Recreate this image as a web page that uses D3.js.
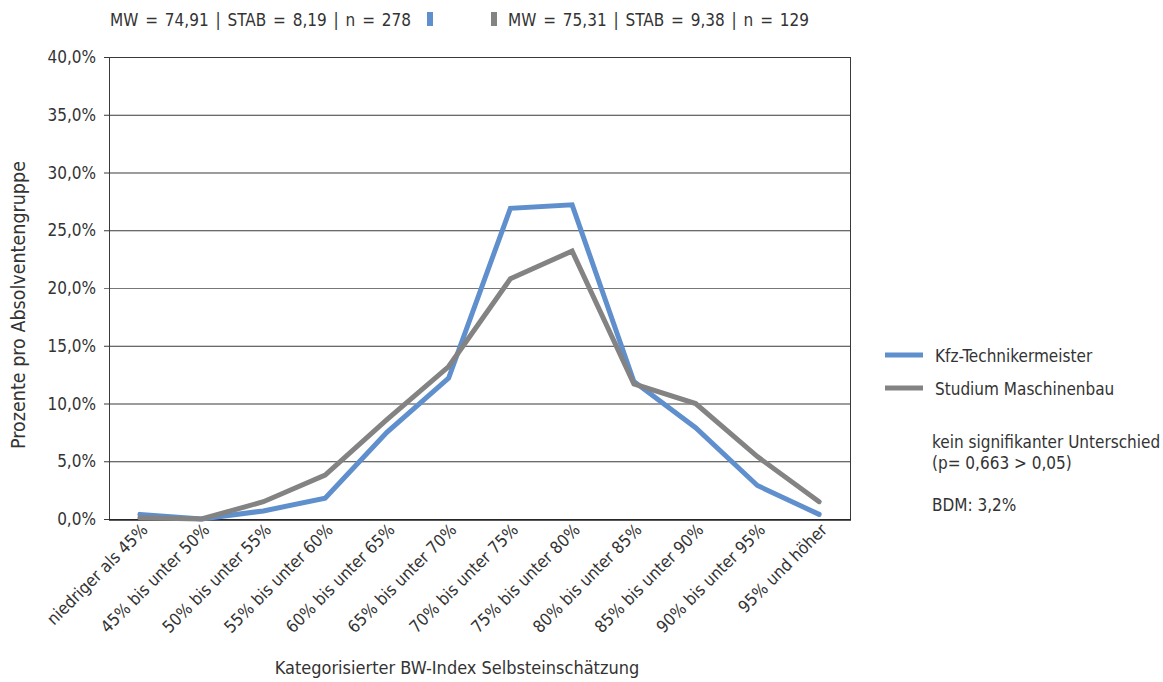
<!DOCTYPE html>
<html>
<head>
<meta charset="utf-8">
<script src="https://cdn.jsdelivr.net/npm/d3@7"></script>
<style>
  body { margin: 0; background: #fff; }
  svg { font-family: "Liberation Sans Narrow", "DejaVu Sans Condensed", "Roboto", sans-serif; }
</style>
</head>
<body>
<svg id="chart"></svg>
<script>
const categories = [
  'niedriger als 45%', '45% bis unter 50%', '50% bis unter 55%', '55% bis unter 60%',
  '60% bis unter 65%', '65% bis unter 70%', '70% bis unter 75%', '75% bis unter 80%',
  '80% bis unter 85%', '85% bis unter 90%', '90% bis unter 95%', '95% und höher'
];
const kfzValues = [0.4, 0.0, 0.7, 1.8, 7.5, 12.2, 26.9, 27.2, 11.9, 7.9, 2.9, 0.4];
const maschValues = [0.1, 0.0, 1.5, 3.8, 8.6, 13.2, 20.8, 23.2, 11.7, 10.0, 5.4, 1.5];
const seriesNames = ['Kfz-Technikermeister', 'Studium Maschinenbau'];
const statsLabels = ['MW = 74,91 | STAB = 8,19 | n = 278', 'MW = 75,31 | STAB = 9,38 | n = 129'];
const yTicks = [0, 5, 10, 15, 20, 25, 30, 35, 40];
const noteLines = ['kein signifikanter Unterschied', '(p= 0,663 > 0,05)', '', 'BDM: 3,2%'];

const W = 1163, H = 682;
const margin = { top: 57, right: 313, bottom: 163, left: 109 };
const colors = ['#5f8fcd', '#838383'];

const svg = d3.select('#chart').attr('width', W).attr('height', H);

const x = d3.scaleBand()
  .domain(categories)
  .range([margin.left, W - margin.right]);

const y = d3.scaleLinear()
  .domain([0, 40])
  .range([H - margin.bottom, margin.top]);

// gridlines
svg.append('g')
  .selectAll('line')
  .data(yTicks)
  .enter()
  .append('line')
  .attr('x1', margin.left - 5)
  .attr('x2', W - margin.right)
  .attr('y1', d => y(d) + 0.5)
  .attr('y2', d => y(d) + 0.5)
  .attr('stroke', d => d === 20 ? '#777' : '#3a3a3a')
  .attr('stroke-width', 1);

// plot frame sides
svg.append('line')
  .attr('x1', margin.left + 0.5).attr('x2', margin.left + 0.5)
  .attr('y1', y(40)).attr('y2', y(0) + 1)
  .attr('stroke', '#3a3a3a');
svg.append('line')
  .attr('x1', W - margin.right + 0.5).attr('x2', W - margin.right + 0.5)
  .attr('y1', y(40)).attr('y2', y(0) + 1)
  .attr('stroke', '#3a3a3a');
svg.append('line')
  .attr('x1', margin.left).attr('x2', W - margin.right + 1)
  .attr('y1', y(0) + 1).attr('y2', y(0) + 1)
  .attr('stroke', '#222').attr('stroke-width', 1.5);

// y axis labels
svg.append('g')
  .selectAll('text')
  .data(yTicks)
  .enter()
  .append('text')
  .attr('x', margin.left - 13)
  .attr('y', d => y(d) + 6)
  .attr('text-anchor', 'end')
  .attr('font-size', 17)
  .attr('fill', '#333')
  .text(d => d.toFixed(1).replace('.', ',') + '%');

// x labels
svg.append('g')
  .selectAll('text')
  .data(categories)
  .enter()
  .append('text')
  .attr('text-anchor', 'end')
  .attr('font-size', 17)
  .attr('fill', '#333')
  .attr('transform', d => `translate(${x(d) + x.bandwidth() / 2 + 9}, ${y(0) + 12}) rotate(-45)`)
  .text(d => d);

// axis titles
svg.append('text')
  .attr('transform', `translate(25, 305) rotate(-90)`)
  .attr('text-anchor', 'middle')
  .attr('font-size', 19.5)
  .attr('fill', '#333')
  .text('Prozente pro Absolventengruppe');

svg.append('text')
  .attr('x', 457)
  .attr('y', 674)
  .attr('text-anchor', 'middle')
  .attr('font-size', 18)
  .attr('fill', '#333')
  .text('Kategorisierter BW-Index Selbsteinschätzung');

// lines
const line = d3.line()
  .x((d, i) => x(categories[i]) + x.bandwidth() / 2)
  .y(d => y(d));

[kfzValues, maschValues].forEach((vals, i) => {
  svg.append('path')
    .datum(vals)
    .attr('d', line)
    .attr('fill', 'none')
    .attr('stroke', colors[i])
    .attr('stroke-width', 5)
    .attr('stroke-linejoin', 'miter')
    .attr('stroke-linecap', 'round');
});

// header stats
svg.append('text')
  .attr('x', 110).attr('y', 26)
  .attr('font-size', 17).attr('fill', '#333')
  .attr('word-spacing', 2)
  .text(statsLabels[0]);
svg.append('rect')
  .attr('x', 427).attr('y', 12).attr('width', 6).attr('height', 14)
  .attr('fill', colors[0]);
svg.append('rect')
  .attr('x', 491).attr('y', 12).attr('width', 6).attr('height', 14)
  .attr('fill', colors[1]);
svg.append('text')
  .attr('x', 508).attr('y', 26)
  .attr('font-size', 17).attr('fill', '#333')
  .attr('word-spacing', 2)
  .text(statsLabels[1]);

// legend
const legend = svg.append('g');
seriesNames.forEach((name, i) => {
  legend.append('rect')
    .attr('x', 885).attr('y', 355 + i * 33 - 2.5)
    .attr('width', 38).attr('height', 5)
    .attr('fill', colors[i]);
  legend.append('text')
    .attr('x', 935).attr('y', 362 + i * 33)
    .attr('font-size', 17).attr('fill', '#333')
    .text(name);
});

// notes
noteLines.forEach((t, i) => {
  svg.append('text')
    .attr('x', 932).attr('y', 448 + i * 21)
    .attr('font-size', 17).attr('fill', '#333')
    .text(t);
});
</script>
</body>
</html>
